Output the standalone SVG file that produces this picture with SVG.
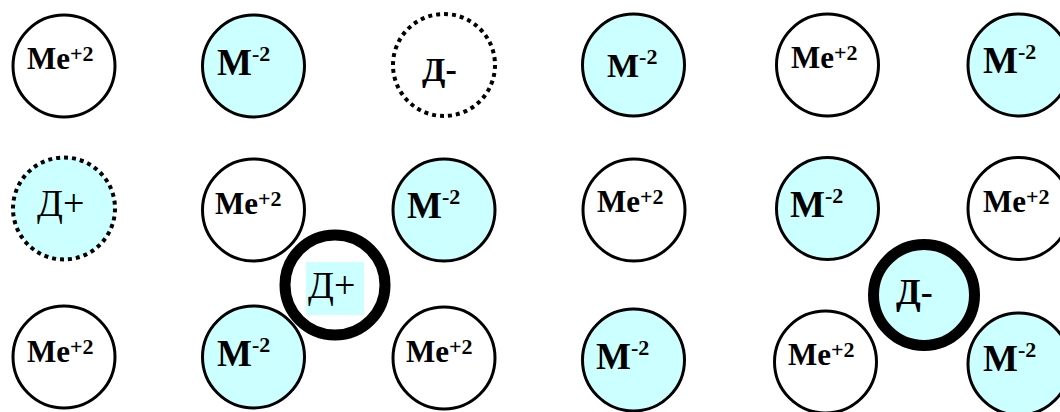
<svg xmlns="http://www.w3.org/2000/svg" width="1060" height="412" viewBox="0 0 1060 412">
<style>
.c{stroke:#000;stroke-width:3;fill:#fff}
.dot{stroke:#000;stroke-width:4;stroke-dasharray:4 4;fill:#fff}
.thick{stroke:#000;stroke-width:11;fill:#fff}
.cy{fill:#ccffff}
text{font-family:"Liberation Serif","Times New Roman",serif;fill:#000}
.me{font-size:31px;font-weight:bold}
.m{font-size:37px;font-weight:bold}
.sup{font-size:22px}
.dp{font-size:38px}
.dm{font-size:34px;font-weight:bold}
</style>
<rect width="1060" height="412" fill="#fff"/>
<g id="connectors"/>
<!-- row 1 -->
<g id="n1"><circle class="c" cx="64" cy="66" r="51"/><text class="me" x="27" y="69">Me<tspan class="sup" dy="-8">+2</tspan></text></g>
<g id="n2"><circle class="c cy" cx="253.5" cy="66" r="51"/><text class="m" x="217" y="75">M<tspan class="sup" dy="-14">-2</tspan></text></g>
<g id="n3"><circle class="dot" cx="444" cy="65" r="51"/><text class="dm" x="422" y="81">Д-</text></g>
<g id="n4"><circle class="c cy" cx="633.5" cy="65" r="51"/><text class="m" x="607" y="77" style="font-size:34px">M<tspan class="sup" dy="-13">-2</tspan></text></g>
<g id="n5"><circle class="c" cx="827.5" cy="65" r="51"/><text class="me" x="791" y="68">Me<tspan class="sup" dy="-8">+2</tspan></text></g>
<g id="n6"><circle class="c cy" cx="1019" cy="65" r="51"/><text class="m" x="983" y="73">M<tspan class="sup" dy="-14">-2</tspan></text></g>
<!-- row 2 -->
<g id="n7"><circle class="dot cy" cx="64" cy="208.5" r="51"/><text class="dp" x="37" y="216">Д+</text></g>
<g id="n8"><circle class="c" cx="253.5" cy="210" r="51"/><text class="me" x="215" y="214">Me<tspan class="sup" dy="-8">+2</tspan></text></g>
<g id="n9"><circle class="c cy" cx="444" cy="210" r="51"/><text class="m" x="407" y="218">M<tspan class="sup" dy="-14">-2</tspan></text></g>
<g id="n10"><circle class="c" cx="634" cy="210" r="51"/><text class="me" x="597" y="212">Me<tspan class="sup" dy="-8">+2</tspan></text></g>
<g id="n11"><circle class="c cy" cx="827.5" cy="208.5" r="51"/><text class="m" x="790" y="217">M<tspan class="sup" dy="-14">-2</tspan></text></g>
<g id="n12"><circle class="c" cx="1019" cy="208.5" r="51"/><text class="me" x="983" y="212">Me<tspan class="sup" dy="-8">+2</tspan></text></g>
<!-- row 3 -->
<g id="n13"><circle class="c" cx="64" cy="357" r="51"/><text class="me" x="27" y="362">Me<tspan class="sup" dy="-8">+2</tspan></text></g>
<g id="n14"><circle class="c cy" cx="253.5" cy="357" r="51"/><text class="m" x="217" y="366">M<tspan class="sup" dy="-14">-2</tspan></text></g>
<g id="n15"><circle class="c" cx="444" cy="358" r="51"/><text class="me" x="406" y="362">Me<tspan class="sup" dy="-8">+2</tspan></text></g>
<g id="n16"><circle class="c cy" cx="633.5" cy="360" r="51"/><text class="m" x="596" y="369">M<tspan class="sup" dy="-14">-2</tspan></text></g>
<g id="n17"><circle class="c" cx="825.5" cy="362" r="51"/><text class="me" x="788" y="365">Me<tspan class="sup" dy="-8">+2</tspan></text></g>
<g id="n18"><circle class="c cy" cx="1019" cy="364" r="51"/><text class="m" x="983" y="371">M<tspan class="sup" dy="-14">-2</tspan></text></g>
<!-- defects -->
<g id="n19"><circle class="thick" cx="335" cy="285" r="50"/><rect x="306" y="262" width="58" height="53" fill="#ccffff"/><text class="dp" x="308" y="298">Д+</text></g>
<g id="n20"><circle class="thick cy" cx="924" cy="295" r="50.5"/><text class="dm" x="896" y="304" style="font-size:36px">Д-</text></g>
</svg>
